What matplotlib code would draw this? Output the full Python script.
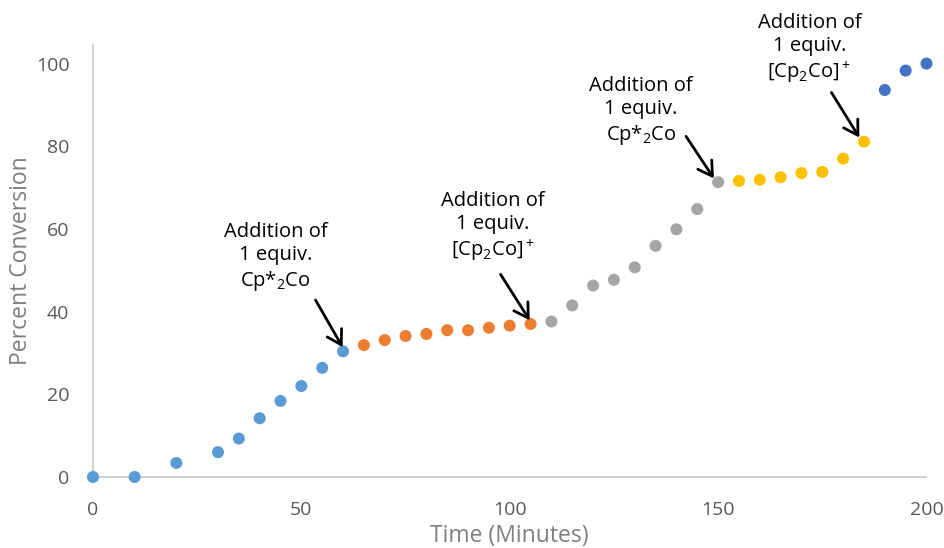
import matplotlib
matplotlib.use("Agg")
import matplotlib.pyplot as plt

plt.rcParams['font.family'] = ['Open Sans', 'DejaVu Sans']

# time (minutes) and percent conversion for each stage
t_stage1 = [0, 10, 20, 30, 35, 40, 45, 50, 55, 60]
y_stage1 = [0, 0, 3.4, 6.0, 9.3, 14.2, 18.4, 22.0, 26.4, 30.4]
t_stage2 = [65, 70, 75, 80, 85, 90, 95, 100, 105]
y_stage2 = [31.9, 33.1, 34.1, 34.6, 35.5, 35.5, 36.1, 36.6, 37.0]
t_stage3 = [110, 115, 120, 125, 130, 135, 140, 145, 150]
y_stage3 = [37.6, 41.5, 46.3, 47.7, 50.7, 55.9, 59.9, 64.8, 71.3]
t_stage4 = [155, 160, 165, 170, 175, 180, 185]
y_stage4 = [71.6, 71.9, 72.5, 73.5, 73.8, 77.0, 81.1]
t_stage5 = [190, 195, 200]
y_stage5 = [93.6, 98.3, 100.0]

stages = [
    (t_stage1, y_stage1, '#5B9BD5'),
    (t_stage2, y_stage2, '#ED7D31'),
    (t_stage3, y_stage3, '#A5A5A5'),
    (t_stage4, y_stage4, '#FFC000'),
    (t_stage5, y_stage5, '#4472C4'),
]

label_cp_star = 'Addition of\n1 equiv.\nCp*$\\mathregular{_2}$Co'
label_cp_plus = 'Addition of\n1 equiv.\n[Cp$\\mathregular{_2}$Co]$\\mathregular{^+}$'
# text, text centre (x, y), arrow start (x, y), arrow tip (x, y)
notes = [
    (label_cp_star, (43.8, 53.1), (53.4, 42.8), (59.9, 31.4)),
    (label_cp_plus, (95.9, 60.4), (97.8, 49.0), (104.8, 37.9)),
    (label_cp_star, (131.5, 88.4), (142.3, 82.4), (149.0, 72.2)),
    (label_cp_plus, (171.9, 103.4), (177.2, 93.0), (183.9, 82.1)),
]

fig = plt.figure(figsize=(9.45, 5.48), dpi=100)
ax = fig.add_axes([0.0984, 0.1296, 0.882, 0.7884])

for t, y, c in stages:
    ax.scatter(t, y, s=75, color=c, edgecolors='none', clip_on=False, zorder=3)

for txt, (tx, ty), start, tip in notes:
    ax.text(tx, ty, txt, ha='center', va='center', fontsize=14.5,
            color='black', linespacing=1.2, clip_on=False)
    ax.annotate('', xy=tip, xytext=start, annotation_clip=False,
                arrowprops=dict(arrowstyle='->,head_length=0.5,head_width=0.3',
                                color='black', lw=2, mutation_scale=20,
                                shrinkA=0, shrinkB=0))

ax.set_xlim(0, 200)
ax.set_ylim(0, 104.5)
ax.set_xticks([0, 50, 100, 150, 200])
ax.set_yticks([0, 20, 40, 60, 80, 100])
for s in ['top', 'right']:
    ax.spines[s].set_visible(False)
for s in ['left', 'bottom']:
    ax.spines[s].set_color('#C8C8C8')
    ax.spines[s].set_linewidth(1.2)
ax.tick_params(length=0, labelsize=14, labelcolor='#595959', pad=17)
ax.set_xlabel('Time (Minutes)', fontsize=16.5, color='#7F7F7F', labelpad=4)
ax.set_ylabel('Percent Conversion', fontsize=16.5, color='#7F7F7F', labelpad=2)

fig.savefig('out.png', dpi=100)
